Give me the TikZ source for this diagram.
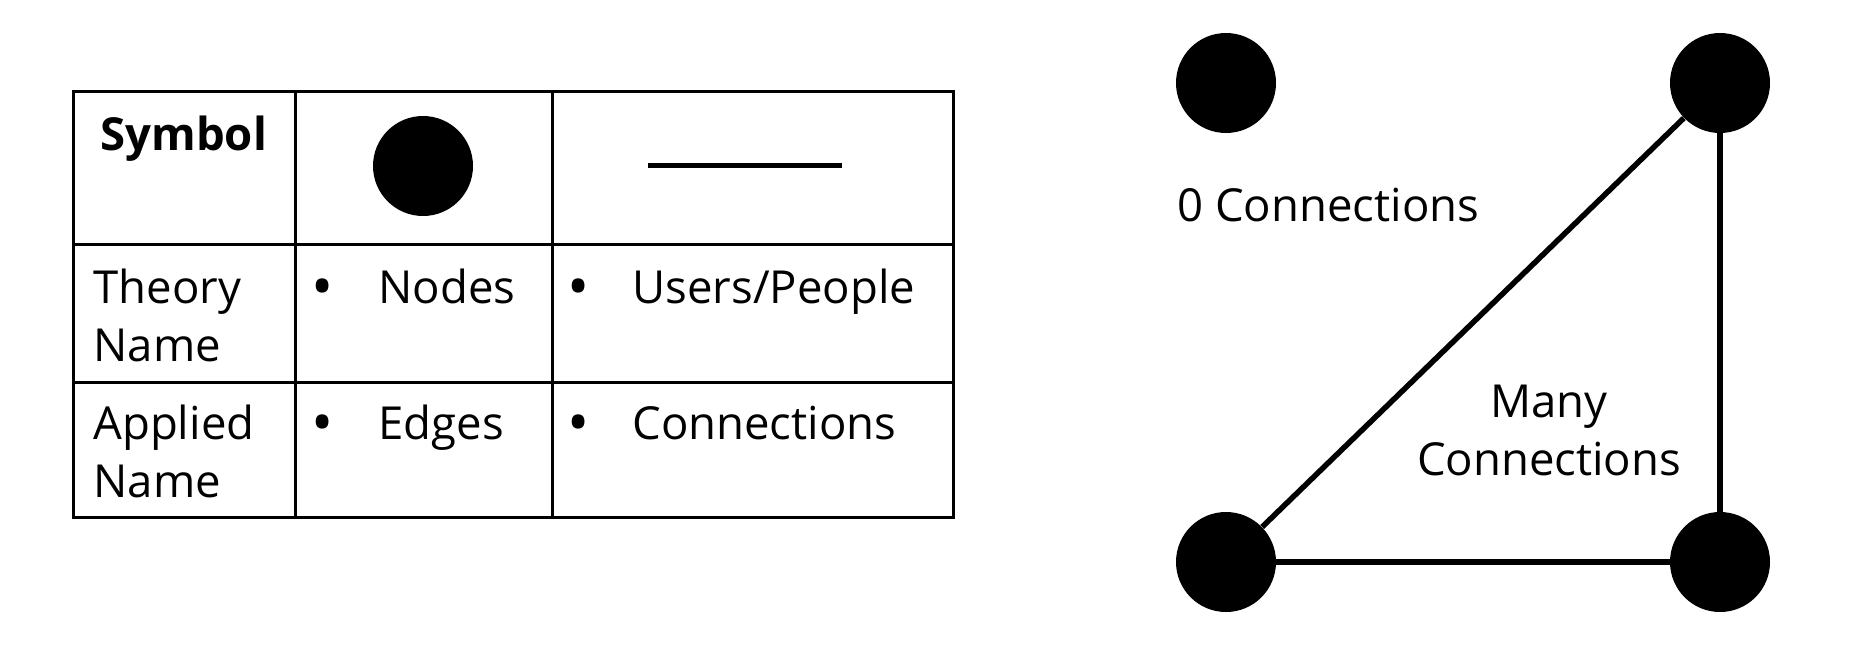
\documentclass[tikz,border=0pt]{standalone}
\usepackage{fontspec}
\setmainfont{Open Sans}
\begin{document}
\begin{tikzpicture}[x=0.5pt,y=-0.5pt,
  txt/.style={font=\fontsize{22.75pt}{29pt}\selectfont, inner sep=0pt, anchor=base west},
  ctxt/.style={font=\fontsize{22.75pt}{29pt}\selectfont, inner sep=0pt, anchor=base},
  bul/.style={font=\fontsize{29.5pt}{29pt}\selectfont, inner sep=0pt, anchor=base},
  dot/.style={circle, fill=black, minimum size=50pt, inner sep=0pt},
  gridline/.style={line width=1.5pt},
  edgeline/.style={line width=2.75pt}]
\useasboundingbox (0,0) rectangle (1864,664);
% table grid
\draw[gridline] (73,91) rectangle (953,517);
\draw[gridline] (295,91) -- (295,517);
\draw[gridline] (552,91) -- (552,517);
\draw[gridline] (73,244) -- (953,244);
\draw[gridline] (73,382) -- (953,382);
% header row
\node[txt] (sym) at (100,150) {\bfseries Symbol};
\node[dot] (symdot) at (423,166) {};
\coordinate (la) at (648,165.5);
\coordinate (lb) at (842,165.5);
\draw[line width=2.5pt] (la) -- (lb);
% row 2
\node[txt] (th1) at (93,303) {Theory};
\node[txt] (th2) at (93,361) {Name};
\node[bul] (b1) at (323,307) {•};
\node[txt] (nodes) at (378,303) {Nodes};
\node[bul] (b2) at (579,307) {•};
\node[txt] (users) at (632,303) {Users/People};
% row 3
\node[txt] (ap1) at (93,439) {Applied};
\node[txt] (ap2) at (93,497) {Name};
\node[bul] (b3) at (323,443) {•};
\node[txt] (edges) at (378,439) {Edges};
\node[bul] (b4) at (579,443) {•};
\node[txt] (conn) at (632,439) {Connections};
% graph
\node[dot] (iso) at (1226,83) {};
\node[dot] (tr) at (1720,83) {};
\node[dot] (bl) at (1226,562) {};
\node[dot] (br) at (1720,562) {};
\draw[edgeline] (bl) -- (tr);
\draw[edgeline] (tr) -- (br);
\draw[edgeline] (bl) -- (br);
\node[txt] (zero) at (1177,221) {0 Connections};
\node[ctxt] (many1) at (1549,417) {Many};
\node[ctxt] (many2) at (1549,475) {Connections};
\end{tikzpicture}
\end{document}
